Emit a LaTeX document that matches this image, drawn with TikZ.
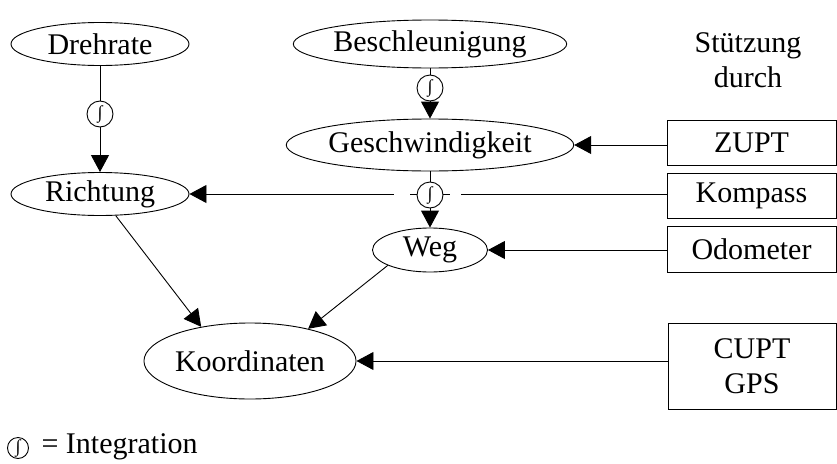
\documentclass[tikz,border=0pt]{standalone}
\usepackage{fontspec}
\setmainfont{Liberation Serif}
\usetikzlibrary{arrows.meta,shapes.geometric}
\begin{document}
\begin{tikzpicture}[x=1pt,y=-1pt,
  every node/.style={font=\fontsize{30}{35}\selectfont},
  oval/.style={draw,ellipse,line width=0.9pt,inner sep=0pt},
  srcbox/.style={draw,rectangle,line width=0.9pt,inner sep=0pt},
  integ/.style={draw,circle,fill=white,line width=0.9pt,minimum size=26pt,inner sep=0pt,
    font=\fontsize{18}{18}\selectfont},
  conn/.style={line width=0.9pt,-{Triangle[length=17pt,width=18pt]}},
  plain/.style={line width=0.9pt}]
\useasboundingbox (0,0) rectangle (837,463);

% quantities
\node[oval,minimum width=178pt,minimum height=43pt] (dreh) at (100,44) {Drehrate};
\node[oval,minimum width=240pt,minimum height=48pt] (besch) at (430,44) {Beschleunigung};
\node[oval,minimum width=178pt,minimum height=43pt] (richt) at (100,194) {Richtung};
\node[oval,minimum width=238pt,minimum height=52pt] (gesch) at (430,145) {Geschwindigkeit};
\node[oval,minimum width=115pt,minimum height=44pt] (weg) at (430,250) {Weg};
\node[oval,minimum width=206pt,minimum height=76pt] (koord) at (250,361) {Koordinaten};

% aiding sources
\node[align=center] (stuetz) at (748,60) {Stützung\\durch};
\node[srcbox,minimum width=169pt,minimum height=45pt] (zupt) at (751.5,142.5) {ZUPT};
\node[srcbox,minimum width=169pt,minimum height=45pt] (komp) at (751.5,195.5) {Kompass};
\node[srcbox,minimum width=169pt,minimum height=46pt] (odo) at (751.5,249) {Odometer};
\node[srcbox,minimum width=168pt,minimum height=86pt,align=center] (cupt) at (752,366) {CUPT\\GPS};

% integration chains
\draw[conn] (dreh) -- (richt);
\draw[conn] (besch) -- (gesch);
\draw[conn] (gesch) -- (weg);

% aiding connectors
\draw[conn] (zupt.west |- gesch.east) -- (gesch.east);
\draw[conn] (komp.west |- richt.east) -- (richt.east);
\draw[conn] (odo.west |- weg.east) -- (weg.east);
\draw[conn] (cupt.west |- koord.east) -- (koord.east);

% combination into coordinates
\draw[conn] (richt.-54) -- (koord.145);
\draw[conn] (weg.-160) -- (koord.29);

% breaks in the compass line around the second integrator
\fill[white] (394,190) rectangle (410,198);
\fill[white] (450,190) rectangle (461,198);

% integrators
\node[integ] (i1) at (100,114) {∫};
\node[integ] (i2) at (430,88) {∫};
\node[integ] (i3) at (430,195) {∫};

% legend
\node[integ,minimum size=21pt] (leg) at (18,448) {∫};
\node[anchor=west] (legtext) at (38,447) {= Integration};
\end{tikzpicture}
\end{document}
